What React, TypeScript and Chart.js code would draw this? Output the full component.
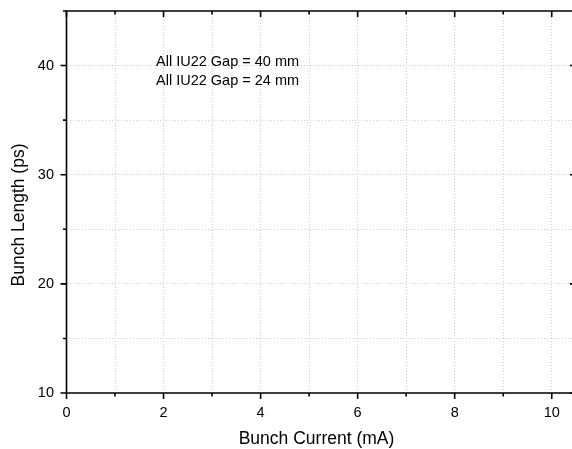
import React, { useEffect, useRef } from "react";
import { Chart, registerables } from "chart.js";

Chart.register(...registerables);

const seriesLabels = ["All IU22 Gap = 40 mm", "All IU22 Gap = 24 mm"];
const gap40Current: number[] = [];
const gap40Length: number[] = [];
const gap24Current: number[] = [];
const gap24Length: number[] = [];
const xMin = 0;
const xMax = 10.5;
const yMin = 10;
const yMax = 45;
const xTitle = "Bunch Current (mA)";
const yTitle = "Bunch Length (ps)";

const FONT = "'Liberation Sans', Arial, sans-serif";
const PLOT_RIGHT = 576;

const extendPlugin = {
  id: "extendRight",
  afterLayout(chart: any) {
    const xs = chart.scales.x;
    xs.right = PLOT_RIGHT;
    xs.width = xs.right - xs.left;
    xs.configure();
    chart.chartArea.right = PLOT_RIGHT;
    chart.chartArea.width = PLOT_RIGHT - chart.chartArea.left;
    const ys = chart.scales.y;
    ys.configure();
  },
};

const framePlugin = {
  id: "frameTicks",
  afterDraw(chart: any) {
    const { ctx, chartArea } = chart;
    const xs = chart.scales.x;
    const ys = chart.scales.y;
    const { left, right, top, bottom } = chartArea;
    ctx.save();
    ctx.strokeStyle = "#000";
    ctx.lineWidth = 1.6;
    ctx.beginPath();
    ctx.rect(left, top, right - left, bottom - top);
    ctx.stroke();
    ctx.beginPath();
    for (let v = 0; v <= 10; v += 1) {
      const px = xs.getPixelForValue(v);
      const len = v % 2 === 0 ? 6 : 3.5;
      ctx.moveTo(px, bottom);
      ctx.lineTo(px, bottom + len);
      ctx.moveTo(px, top);
      ctx.lineTo(px, top + len);
    }
    for (let v = 10; v <= 45; v += 5) {
      const py = ys.getPixelForValue(v);
      const len = v % 10 === 0 ? 6 : 3.5;
      ctx.moveTo(left, py);
      ctx.lineTo(left - len, py);
      ctx.moveTo(right, py);
      ctx.lineTo(right - len, py);
    }
    ctx.stroke();
    ctx.fillStyle = "#000";
    ctx.font = "14.5px " + FONT;
    ctx.textBaseline = "middle";
    ctx.textAlign = "left";
    chart.data.datasets.forEach((ds: any, i: number) => {
      ctx.fillText(ds.label, left + 89.5, top + 51 + i * 19);
    });
    ctx.font = "17.5px " + FONT;
    ctx.textAlign = "center";
    ctx.fillText(xTitle, 316.5, 439);
    ctx.translate(19, 215);
    ctx.rotate(-Math.PI / 2);
    ctx.fillText(yTitle, 0, 0);
    ctx.restore();
  },
};

export default function App() {
  const ref = useRef<HTMLCanvasElement>(null);
  useEffect(() => {
    if (!ref.current) return;
    const chart = new Chart(ref.current, {
      type: "scatter",
      data: {
        datasets: [
          {
            label: seriesLabels[0],
            data: gap40Current.map((x, i) => ({ x, y: gap40Length[i] })),
          },
          {
            label: seriesLabels[1],
            data: gap24Current.map((x, i) => ({ x, y: gap24Length[i] })),
          },
        ],
      },
      options: {
        animation: false,
        responsive: false,
        maintainAspectRatio: false,
        layout: { padding: { top: 11, right: 0, left: 0, bottom: 0 } },
        plugins: { legend: { display: false }, tooltip: { enabled: false } },
        scales: {
          x: {
            type: "linear",
            min: xMin,
            max: xMax,
            afterFit: (s: any) => {
              s.height = 56;
              s.paddingLeft = 0;
              s.paddingRight = 0;
            },
            afterBuildTicks: (s: any) => {
              const t = [];
              for (let v = 0; v <= 10; v += 1) t.push({ value: v });
              s.ticks = t;
            },
            ticks: {
              color: "#000",
              font: { family: FONT, size: 14.5 },
              padding: 11,
              maxRotation: 0,
              autoSkip: false,
              callback: (v: any) => (Number(v) % 2 === 0 ? String(v) : ""),
            },
            grid: { color: "#cfcfcf", lineWidth: 1, drawTicks: false },
            border: { display: false, dash: [1, 2] },
          },
          y: {
            type: "linear",
            min: yMin,
            max: yMax,
            afterFit: (s: any) => {
              s.width = 66.5;
              s.paddingTop = 0;
              s.paddingBottom = 0;
            },
            afterBuildTicks: (s: any) => {
              const t = [];
              for (let v = 10; v <= 45; v += 5) t.push({ value: v });
              s.ticks = t;
            },
            ticks: {
              color: "#000",
              font: { family: FONT, size: 14.5 },
              padding: 12.5,
              autoSkip: false,
              callback: (v: any) => (Number(v) % 10 === 0 ? String(v) : ""),
            },
            grid: {
              color: (c: any) => (c.tick && c.tick.value === 45 ? "rgba(0,0,0,0)" : "#cfcfcf"),
              lineWidth: 1,
              drawTicks: false,
            },
            border: { display: false, dash: [1, 2] },
          },
        },
      },
      plugins: [extendPlugin, framePlugin],
    } as any);
    return () => chart.destroy();
  }, []);
  return (
    <div style={{ position: "fixed", left: 0, top: 0, width: 572, height: 449, overflow: "hidden", background: "#fff" }}>
      <canvas ref={ref} width={572} height={449} style={{ display: "block" }} />
    </div>
  );
}
